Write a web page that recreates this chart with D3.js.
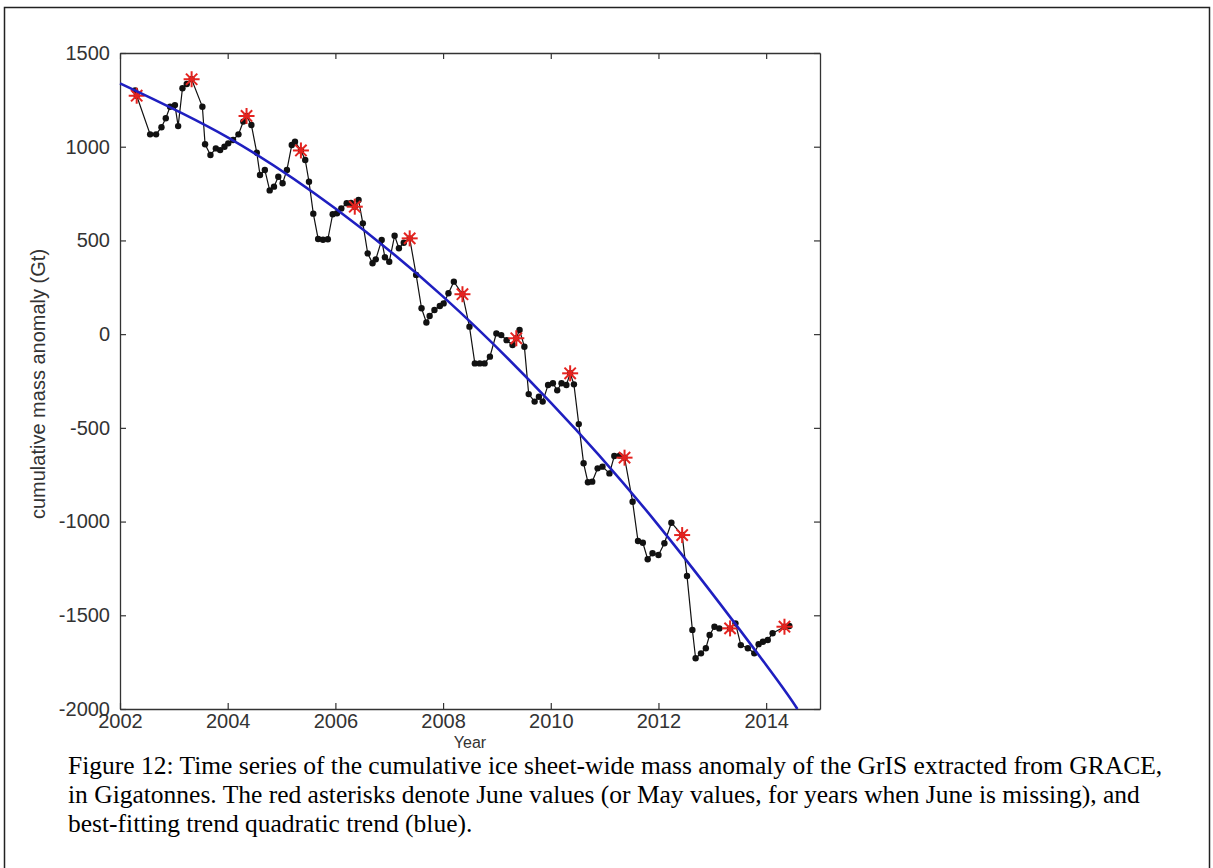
<!DOCTYPE html>
<html>
<head>
<meta charset="utf-8">
<script src="https://cdn.jsdelivr.net/npm/d3@7"></script>
<style>
  body { margin: 0; background: #fff; }
  svg { display: block; }
</style>
</head>
<body>
<svg></svg>
<script>
// monthly GRACE mass anomaly (decimal year, Gt)
var years = [
  2002.28, 2002.31, 2002.56, 2002.67, 2002.77, 2002.85, 2002.93, 2003.02, 2003.08, 2003.16,
  2003.24, 2003.33, 2003.53, 2003.58, 2003.68, 2003.78, 2003.86, 2003.94, 2004.01, 2004.10,
  2004.20, 2004.29, 2004.35, 2004.44, 2004.54, 2004.60, 2004.69, 2004.78, 2004.86, 2004.94,
  2005.02, 2005.10, 2005.19, 2005.25, 2005.36, 2005.44, 2005.51, 2005.59, 2005.68, 2005.77,
  2005.86, 2005.95, 2006.03, 2006.11, 2006.21, 2006.29, 2006.36, 2006.43, 2006.51, 2006.60,
  2006.69, 2006.75, 2006.86, 2006.92, 2007.00, 2007.10, 2007.18, 2007.27, 2007.38, 2007.50,
  2007.60, 2007.69, 2007.75, 2007.84, 2007.94, 2008.01, 2008.10, 2008.20, 2008.36, 2008.49,
  2008.59, 2008.68, 2008.77, 2008.87, 2008.99, 2009.08, 2009.18, 2009.29, 2009.36, 2009.42,
  2009.51, 2009.59, 2009.70, 2009.78, 2009.85, 2009.95, 2010.04, 2010.12, 2010.20, 2010.29,
  2010.36, 2010.43, 2010.52, 2010.61, 2010.69, 2010.77, 2010.87, 2010.96, 2011.09, 2011.18,
  2011.28, 2011.37, 2011.52, 2011.62, 2011.71, 2011.80, 2011.89, 2012.00, 2012.11, 2012.24,
  2012.44, 2012.53, 2012.63, 2012.69, 2012.79, 2012.88, 2012.95, 2013.04, 2013.13, 2013.33,
  2013.43, 2013.53, 2013.66, 2013.78, 2013.86, 2013.94, 2014.03, 2014.12, 2014.34, 2014.43
];
var massAnomaly = [
  1300, 1272, 1066, 1066, 1104, 1152, 1213, 1222, 1110, 1312,
  1335, 1360, 1213, 1013, 956, 991, 982, 1000, 1018, 1036,
  1066, 1134, 1164, 1116, 968, 849, 876, 767, 787, 840,
  805, 876, 1009, 1027, 980, 929, 813, 643, 508, 504,
  506, 640, 645, 671, 698, 700, 680, 716, 591, 431,
  378, 399, 502, 410, 386, 525, 458, 488, 511, 316,
  138, 62, 97, 129, 150, 164, 218, 280, 213, 40,
  -156, -156, -156, -120, 4, -5, -32, -58, -22, 22,
  -67, -320, -360, -334, -360, -271, -262, -300, -262, -271,
  -209, -268, -480, -689, -790, -787, -716, -707, -743, -650,
  -648, -659, -894, -1104, -1113, -1201, -1169, -1178, -1116, -1006,
  -1072, -1290, -1578, -1729, -1703, -1676, -1605, -1561, -1570, -1570,
  -1543, -1659, -1676, -1703, -1654, -1641, -1632, -1596, -1561, -1557
];

// June (or May) values, red asterisks
var juneYears = [2002.31, 2003.33, 2004.35, 2005.36, 2006.36, 2007.38, 2008.36, 2009.36, 2010.36, 2011.37, 2012.44, 2013.33, 2014.34];
var juneValues = [1272, 1360, 1164, 980, 680, 511, 213, -22, -209, -659, -1072, -1570, -1561];

// quadratic trend
var trendYears = [2002, 2004, 2006, 2008, 2010, 2012, 2014, 2014.58];
var trendValues = [1338, 1050, 670, 200, -365, -1020, -1765, -2000];

var xTicks = [2002, 2004, 2006, 2008, 2010, 2012, 2014];
var yTicks = [-2000, -1500, -1000, -500, 0, 500, 1000, 1500];

var caption = [
  "Figure 12: Time series of the cumulative ice sheet-wide mass anomaly of the GrIS extracted from GRACE,",
  "in Gigatonnes. The red asterisks denote June values (or May values, for years when June is missing), and",
  "best-fitting trend quadratic trend (blue)."
];

var svgWidth = 1213, svgHeight = 868;
var plotLeft = 120, plotRight = 820, plotTop = 53, plotBottom = 709;

var svg = d3.select("svg")
    .attr("width", svgWidth)
    .attr("height", svgHeight);

svg.append("rect")
    .attr("x", 0).attr("y", 0)
    .attr("width", svgWidth).attr("height", svgHeight)
    .attr("fill", "#fff");

// outer frame of the figure
svg.append("rect")
    .attr("x", 4.5).attr("y", 7.5)
    .attr("width", 1205).attr("height", 870)
    .attr("fill", "none")
    .attr("stroke", "#222")
    .attr("stroke-width", 1.5);

var x = d3.scaleLinear().domain([2002, 2015]).range([plotLeft, plotRight]);
var y = d3.scaleLinear().domain([-2000, 1500]).range([plotBottom, plotTop]);

var tickFont = "'Liberation Sans', Arial, sans-serif";
var plain = function(d) { return String(d); };

// axes box with inward ticks (matlab style)
var g = svg.append("g");

g.append("g")
    .attr("transform", "translate(0," + plotBottom + ")")
    .call(d3.axisBottom(x).tickValues(xTicks).tickSizeInner(-6).tickSizeOuter(0).tickPadding(5).tickFormat(plain));
g.append("g")
    .attr("transform", "translate(0," + plotTop + ")")
    .call(d3.axisTop(x).tickValues(xTicks).tickSizeInner(-6).tickSizeOuter(0).tickFormat(""));
g.append("g")
    .attr("transform", "translate(" + plotLeft + ",0)")
    .call(d3.axisLeft(y).tickValues(yTicks).tickSizeInner(-6).tickSizeOuter(0).tickPadding(10).tickFormat(plain));
g.append("g")
    .attr("transform", "translate(" + plotRight + ",0)")
    .call(d3.axisRight(y).tickValues(yTicks).tickSizeInner(-6).tickSizeOuter(0).tickFormat(""));

g.selectAll(".domain").attr("stroke", "#333").attr("stroke-width", 1.3);
g.selectAll(".tick line").attr("stroke", "#333").attr("stroke-width", 1.2);
g.selectAll(".tick text")
    .attr("font-family", tickFont)
    .attr("font-size", 20)
    .attr("fill", "#333");

svg.append("text")
    .attr("x", (plotLeft + plotRight) / 2)
    .attr("y", 747.5)
    .attr("text-anchor", "middle")
    .attr("font-family", tickFont)
    .attr("font-size", 16)
    .attr("fill", "#333")
    .text("Year");

svg.append("text")
    .attr("transform", "translate(45,384) rotate(-90)")
    .attr("text-anchor", "middle")
    .attr("font-family", tickFont)
    .attr("font-size", 20)
    .attr("fill", "#333")
    .text("cumulative mass anomaly (Gt)");

var series = years.map(function(d, i) { return {t: d, v: massAnomaly[i]}; });
var stars = juneYears.map(function(d, i) { return {t: d, v: juneValues[i]}; });
var trend = trendYears.map(function(d, i) { return {t: d, v: trendValues[i]}; });

var line = d3.line()
    .x(function(d) { return x(d.t); })
    .y(function(d) { return y(d.v); });

svg.append("path")
    .datum(series)
    .attr("d", line)
    .attr("fill", "none")
    .attr("stroke", "#111")
    .attr("stroke-width", 1.2);

svg.selectAll(".dot")
    .data(series)
    .enter()
    .append("circle")
    .attr("class", "dot")
    .attr("cx", function(d) { return x(d.t); })
    .attr("cy", function(d) { return y(d.v); })
    .attr("r", 3.2)
    .attr("fill", "#111");

// red asterisks: + and x combined
var r = 8;
var star = svg.selectAll(".star")
    .data(stars)
    .enter()
    .append("g")
    .attr("class", "star")
    .attr("transform", function(d) { return "translate(" + x(d.t) + "," + y(d.v) + ")"; });

[0, 45, 90, 135].forEach(function(a) {
    var rad = a * Math.PI / 180;
    star.append("line")
        .attr("x1", -r * Math.cos(rad)).attr("y1", -r * Math.sin(rad))
        .attr("x2", r * Math.cos(rad)).attr("y2", r * Math.sin(rad))
        .attr("stroke", "#e5231f")
        .attr("stroke-width", 2);
});

svg.append("path")
    .datum(trend)
    .attr("d", line.curve(d3.curveNatural))
    .attr("fill", "none")
    .attr("stroke", "#1f1fc0")
    .attr("stroke-width", 2.6);

svg.append("g")
    .selectAll("text")
    .data(caption)
    .enter()
    .append("text")
    .attr("x", 68)
    .attr("y", function(d, i) { return 774 + i * 29; })
    .attr("font-family", "'Liberation Serif', 'Times New Roman', serif")
    .attr("font-size", 25.5)
    .attr("fill", "#000")
    .text(function(d) { return d; });
</script>
</body>
</html>
